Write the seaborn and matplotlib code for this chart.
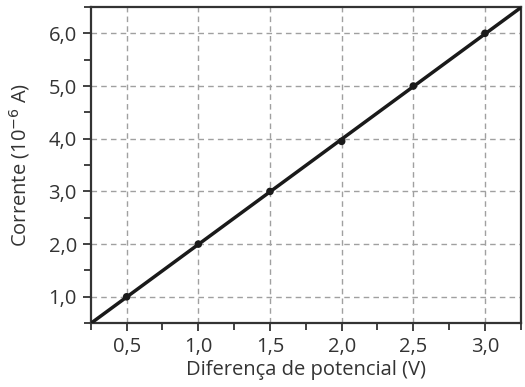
import numpy as np
import pandas as pd
import matplotlib
matplotlib.use("Agg")
import matplotlib.pyplot as plt
import seaborn as sns
from matplotlib.ticker import MultipleLocator, FuncFormatter

# data
voltage = [0.5, 1.0, 1.5, 2.0, 2.5, 3.0]
current = [1.0, 2.0, 3.0, 3.95, 5.0, 6.0]
x_ticks = [0.5, 1.0, 1.5, 2.0, 2.5, 3.0]
y_ticks = [1.0, 2.0, 3.0, 4.0, 5.0, 6.0]

sns.set_style("white")
plt.rcParams['font.family'] = ['Open Sans', 'DejaVu Sans']

df = pd.DataFrame({'V': voltage, 'I': current})

fig, ax = plt.subplots(figsize=(5.25, 3.87), dpi=100)
fig.subplots_adjust(left=0.173, right=0.992, top=0.982, bottom=0.165)

ax.set_xlim(0.25, 3.25)
ax.set_ylim(0.5, 6.5)

# fitted straight line across the whole axis
slope, icpt = np.polyfit(df['V'], df['I'], 1)
xs = np.array(ax.get_xlim())
sns.lineplot(x=xs, y=slope * xs + icpt, ax=ax, color='#1a1a1a', linewidth=2.5, zorder=3)
sns.scatterplot(data=df, x='V', y='I', ax=ax, color='#1a1a1a', s=30, edgecolor='none', zorder=4)

ax.set_xticks(x_ticks)
ax.set_yticks(y_ticks)
ax.xaxis.set_minor_locator(MultipleLocator(0.25))
ax.yaxis.set_minor_locator(MultipleLocator(0.5))
fmt = FuncFormatter(lambda v, p: f"{v:.1f}".replace('.', ','))
ax.xaxis.set_major_formatter(fmt)
ax.yaxis.set_major_formatter(fmt)

ax.grid(True, which='major', linestyle=(0, (4, 3)), color='#a0a0a0', linewidth=1.0)
ax.tick_params(which='both', direction='out', colors='#333333', labelcolor='#333333', labelsize=14.5)
ax.tick_params(which='major', length=6, width=1.3, bottom=True, left=True, pad=4)
ax.tick_params(which='minor', length=5, width=1.3, bottom=True, left=True)

for s in ax.spines.values():
    s.set_color('#333333')
    s.set_linewidth(1.6)

ax.set_xlabel('Diferença de potencial (V)', fontsize=14.5, color='#333333', labelpad=2)
ax.set_ylabel('Corrente (10$^{-6}$ A)', fontsize=14.5, color='#333333', labelpad=12)

fig.savefig('out.png', dpi=100)
